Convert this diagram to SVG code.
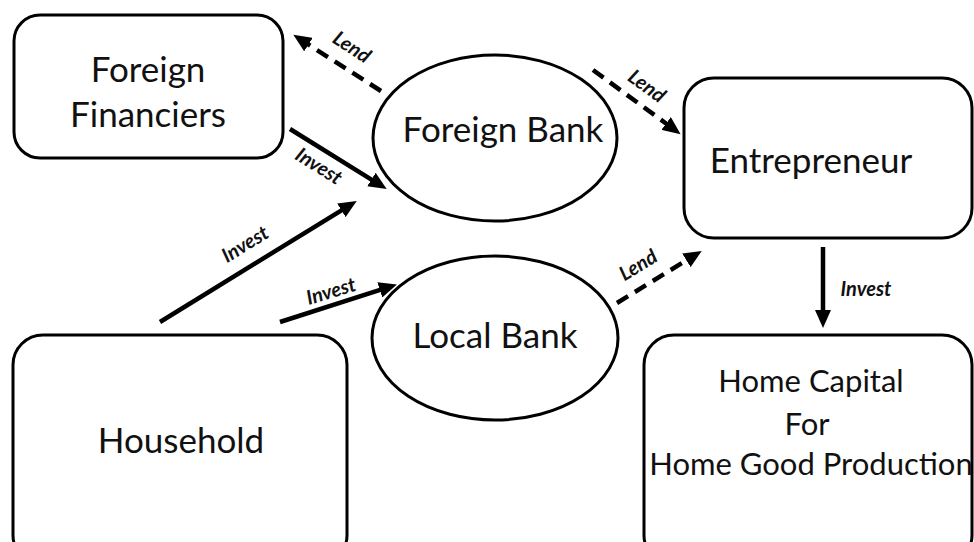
<svg xmlns="http://www.w3.org/2000/svg" width="974" height="542" viewBox="0 0 974 542">
<defs>
<style>
.box{fill:#fff;stroke:#000;stroke-width:3}
.ell{fill:#fff;stroke:#000;stroke-width:3}
.t{font-family:Lato,"Liberation Sans",sans-serif;font-size:35px;fill:#111;text-anchor:middle}
.t2{font-family:Lato,"Liberation Sans",sans-serif;font-size:31px;fill:#111;text-anchor:middle}
.lbl{font-family:Lato,"Liberation Sans",sans-serif;font-size:20px;font-weight:bold;font-style:italic;fill:#111;text-anchor:middle}
.ln{stroke:#000;stroke-width:4.5;fill:none}
.dash{stroke-dasharray:13 8}
</style>
<marker id="ah" markerUnits="userSpaceOnUse" markerWidth="19" markerHeight="16" refX="2" refY="8" orient="auto">
<path d="M0,0 L18,8 L0,16 z" fill="#000"/>
</marker>
</defs>
<rect width="974" height="542" fill="#fff"/>
<g id="foreign-financiers">
<rect class="box" x="14" y="15" width="269" height="143" rx="26"/>
<text class="t" x="148" y="82">Foreign</text>
<text class="t" x="148" y="127">Financiers</text>
</g>
<g id="foreign-bank">
<ellipse class="ell" cx="495" cy="138" rx="122" ry="83"/>
<text class="t" x="503" y="142">Foreign Bank</text>
</g>
<g id="entrepreneur">
<rect class="box" x="684" y="78" width="288" height="160" rx="30"/>
<text class="t" x="811" y="173">Entrepreneur</text>
</g>
<g id="household">
<rect class="box" x="13" y="335" width="334" height="230" rx="30"/>
<text class="t" x="181" y="453">Household</text>
</g>
<g id="local-bank">
<ellipse class="ell" cx="495" cy="338" rx="123" ry="82"/>
<text class="t" x="495" y="348">Local Bank</text>
</g>
<g id="home-capital">
<rect class="box" x="644" y="335" width="328" height="230" rx="30"/>
<text class="t2" x="811" y="392">Home Capital</text>
<text class="t2" x="807" y="435">For</text>
<text class="t2" x="811" y="475">Home Good Production</text>
</g>
<g id="connectors">
<line class="ln dash" x1="381" y1="91" x2="306.8" y2="43.5" marker-end="url(#ah)"/>
<line class="ln dash" x1="593" y1="70" x2="667.7" y2="124.7" marker-end="url(#ah)"/>
<line class="ln" x1="290" y1="129" x2="373.1" y2="180.6" marker-end="url(#ah)"/>
<line class="ln" x1="160" y1="322" x2="343.1" y2="209.3" marker-end="url(#ah)"/>
<line class="ln" x1="280" y1="322" x2="381.7" y2="289.3" marker-end="url(#ah)"/>
<line class="ln dash" x1="617" y1="303" x2="688.1" y2="259.3" marker-end="url(#ah)"/>
<line class="ln" x1="823" y1="247" x2="823" y2="312" marker-end="url(#ah)"/>
<text class="lbl" transform="translate(352,47) rotate(33)" y="7">Lend</text>
<text class="lbl" transform="translate(647,86) rotate(36)" y="7">Lend</text>
<text class="lbl" transform="translate(319,166) rotate(32)" y="7">Invest</text>
<text class="lbl" transform="translate(245,244) rotate(-31.6)" y="7">Invest</text>
<text class="lbl" transform="translate(331,291) rotate(-17)" y="7">Invest</text>
<text class="lbl" transform="translate(638,265) rotate(-31.6)" y="7">Lend</text>
<text class="lbl" x="866" y="296">Invest</text>
</g>
</svg>
